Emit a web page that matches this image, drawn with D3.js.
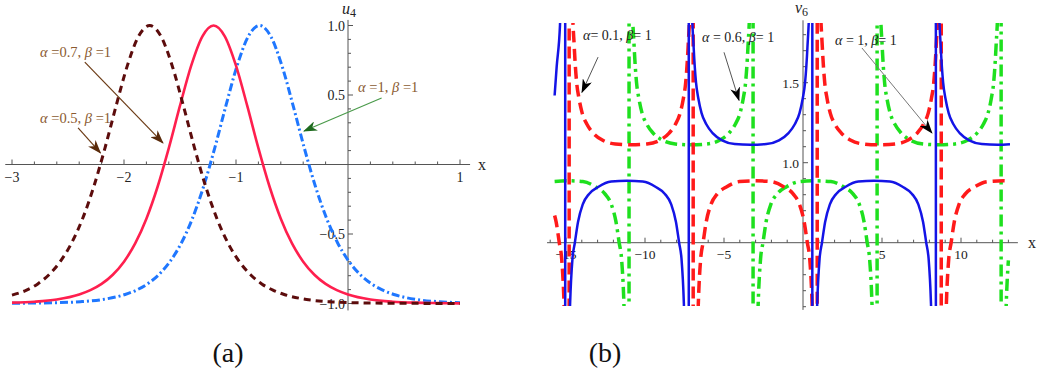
<!DOCTYPE html>
<html>
<head>
<meta charset="utf-8">
<script src="https://cdn.jsdelivr.net/npm/d3@7"></script>
<style>
  body { margin: 0; background: #fff; }
  svg { display: block; }
</style>
</head>
<body>
<div id="chart"></div>
<script>
// ---------- panel (a): u4 against x ----------
var brownX = [-3.0,-2.87,-2.77,-2.67,-2.57,-2.47,-2.37,-2.27,-2.17,-2.07,-1.97,-1.87,-1.77,-1.67,-1.57,-1.47,-1.37,-1.27,-1.17,-1.07,-0.97,-0.87,-0.77,-0.67,-0.57,-0.37,-0.17,0.03,0.23,0.63,1.0];
var brownU = [-0.94,-0.904,-0.859,-0.793,-0.699,-0.568,-0.39,-0.16,0.118,0.423,0.711,0.922,1.0,0.922,0.711,0.423,0.118,-0.16,-0.39,-0.568,-0.699,-0.793,-0.859,-0.904,-0.935,-0.971,-0.987,-0.994,-0.997,-0.999,-1.0];

var redX = [-3.0,-2.8,-2.6,-2.4,-2.3,-2.2,-2.1,-2.0,-1.9,-1.8,-1.7,-1.6,-1.5,-1.4,-1.3,-1.2,-1.1,-1.0,-0.9,-0.8,-0.7,-0.6,-0.5,-0.4,-0.3,-0.2,-0.1,0.0,0.2,0.4,0.6,0.8,1.0];
var redU = [-0.994,-0.987,-0.971,-0.935,-0.904,-0.859,-0.793,-0.699,-0.568,-0.39,-0.16,0.118,0.423,0.711,0.922,1.0,0.922,0.711,0.423,0.118,-0.16,-0.39,-0.568,-0.699,-0.793,-0.859,-0.904,-0.935,-0.971,-0.987,-0.994,-0.997,-0.999];

var blueX = [-3.0,-2.59,-2.39,-2.19,-1.99,-1.89,-1.79,-1.69,-1.59,-1.49,-1.39,-1.29,-1.19,-1.09,-0.99,-0.89,-0.79,-0.69,-0.59,-0.49,-0.39,-0.29,-0.19,-0.09,0.01,0.11,0.21,0.31,0.41,0.61,0.81,1.0];
var blueU = [-0.998,-0.994,-0.987,-0.971,-0.935,-0.904,-0.859,-0.793,-0.699,-0.568,-0.39,-0.16,0.118,0.423,0.711,0.922,1.0,0.922,0.711,0.423,0.118,-0.16,-0.39,-0.568,-0.699,-0.793,-0.859,-0.904,-0.935,-0.971,-0.987,-0.994];

var aTicksX = [-3, -2, -1, 1];
var aTicksY = [-1.0, -0.5, 0.5, 1.0];

// ---------- panel (b): v6 against x, one list per branch ----------
var bBlueX = [
  [-15.72,-15.59,-15.38,-15.21,-15.05],
  [-15.05,-14.89,-14.74,-14.59,-14.44,-14.24,-13.94,-13.54,-12.94,-12.14,-11.14,-10.14,-9.34,-8.74,-8.34,-8.04,-7.84,-7.69,-7.54,-7.39,-7.23],
  [-7.23,-7.17,-7.07,-6.92,-6.77,-6.62,-6.42,-6.12,-5.72,-5.12,-4.32,-3.32,-2.32,-1.52,-0.92,-0.52,-0.22,-0.02,0.13,0.28,0.43,0.53,0.59],
  [0.59,0.75,0.90,1.05,1.20,1.40,1.70,2.10,2.70,3.50,4.50,5.50,6.30,6.90,7.30,7.60,7.80,7.95,8.10,8.25,8.41],
  [8.41,8.47,8.57,8.72,8.87,9.02,9.22,9.52,9.92,10.52,11.32,12.32,13.1]
];
var bBlueV = [
  [1.42,1.60,1.86,2.4,5.0],
  [-3.0,-0.5,0.12,0.40,0.50,0.63,0.74,0.805,0.85,0.882,0.887,0.882,0.85,0.805,0.74,0.63,0.50,0.40,0.12,-0.5,-3.0],
  [5.0,2.8,2.1,1.72,1.50,1.40,1.31,1.24,1.185,1.14,1.117,1.112,1.117,1.14,1.185,1.24,1.31,1.40,1.50,1.72,2.1,2.8,5.0],
  [-3.0,-0.5,0.12,0.40,0.50,0.63,0.74,0.805,0.85,0.882,0.887,0.882,0.85,0.805,0.74,0.63,0.50,0.40,0.12,-0.5,-3.0],
  [5.0,2.8,2.1,1.72,1.50,1.40,1.31,1.24,1.185,1.14,1.117,1.112,1.116]
];

var bRedX = [
  [-15.72,-15.625,-15.425,-15.275,-15.125,-14.975,-14.80],
  [-14.80,-14.725,-14.625,-14.475,-14.325,-14.175,-13.975,-13.675,-13.275,-12.675,-11.875,-10.875,-9.875,-9.075,-8.475,-8.075,-7.775,-7.575,-7.425,-7.275,-7.125,-7.025,-6.95],
  [-6.95,-6.775,-6.625,-6.475,-6.325,-6.125,-5.825,-5.425,-4.825,-4.025,-3.025,-2.025,-1.225,-0.625,-0.225,0.075,0.275,0.425,0.575,0.725,0.90],
  [0.90,0.975,1.075,1.225,1.375,1.525,1.725,2.025,2.425,3.025,3.825,4.825,5.825,6.625,7.225,7.625,7.925,8.125,8.275,8.425,8.575,8.675,8.75],
  [8.75,8.925,9.075,9.225,9.375,9.575,9.875,10.275,10.875,11.675,12.675,12.9]
];
var bRedV = [
  [0.67,0.63,0.50,0.40,0.12,-0.5,-3.0],
  [5.0,2.8,2.1,1.72,1.50,1.40,1.31,1.24,1.185,1.14,1.117,1.112,1.117,1.14,1.185,1.24,1.31,1.40,1.50,1.72,2.1,2.8,5.0],
  [-3.0,-0.5,0.12,0.40,0.50,0.63,0.74,0.805,0.85,0.882,0.887,0.882,0.85,0.805,0.74,0.63,0.50,0.40,0.12,-0.5,-3.0],
  [5.0,2.8,2.1,1.72,1.50,1.40,1.31,1.24,1.185,1.14,1.117,1.112,1.117,1.14,1.185,1.24,1.31,1.40,1.50,1.72,2.1,2.8,5.0],
  [-3.0,-0.5,0.12,0.40,0.50,0.63,0.74,0.805,0.85,0.882,0.887,0.886]
];

var bGreenX = [
  [-15.72,-14.935,-13.935,-13.135,-12.535,-12.135,-11.835,-11.635,-11.485,-11.335,-11.185,-11.01],
  [-11.01,-10.935,-10.835,-10.685,-10.535,-10.385,-10.185,-9.885,-9.485,-8.885,-8.085,-7.085,-6.085,-5.285,-4.685,-4.285,-3.985,-3.785,-3.635,-3.485,-3.335,-3.235,-3.16],
  [-3.16,-2.985,-2.835,-2.685,-2.535,-2.335,-2.035,-1.635,-1.035,-0.235,0.765,1.765,2.565,3.165,3.565,3.865,4.065,4.215,4.365,4.515,4.69],
  [4.69,4.765,4.865,5.015,5.165,5.315,5.515,5.815,6.215,6.815,7.615,8.615,9.615,10.415,11.015,11.415,11.715,11.915,12.065,12.215,12.365,12.465,12.54],
  [12.54,12.715,12.865,13.0]
];
var bGreenV = [
  [0.883,0.887,0.882,0.85,0.805,0.74,0.63,0.50,0.40,0.12,-0.5,-3.0],
  [5.0,2.8,2.1,1.72,1.50,1.40,1.31,1.24,1.185,1.14,1.117,1.112,1.117,1.14,1.185,1.24,1.31,1.40,1.50,1.72,2.1,2.8,5.0],
  [-3.0,-0.5,0.12,0.40,0.50,0.63,0.74,0.805,0.85,0.882,0.887,0.882,0.85,0.805,0.74,0.63,0.50,0.40,0.12,-0.5,-3.0],
  [5.0,2.8,2.1,1.72,1.50,1.40,1.31,1.24,1.185,1.14,1.117,1.112,1.117,1.14,1.185,1.24,1.31,1.40,1.50,1.72,2.1,2.8,5.0],
  [-3.0,-0.5,0.12,0.39]
];

var bTicksX = [-15, -10, -5, 5, 10];
var bTicksY = [1.0, 1.5];

var W = 1038, H = 374;
var axisColor = "#555";

var svg = d3.select("#chart").append("svg")
  .attr("width", W).attr("height", H)
  .attr("font-family", "Liberation Serif");

// arrow heads
var defs = svg.append("defs");
function addMarker(id, color) {
  defs.append("marker")
    .attr("id", id)
    .attr("viewBox", "0 0 14 10")
    .attr("refX", 13).attr("refY", 5)
    .attr("markerWidth", 14).attr("markerHeight", 10)
    .attr("markerUnits", "userSpaceOnUse")
    .attr("orient", "auto")
    .append("path")
    .attr("d", "M0,0 L14,5 L0,10 L4,5 Z")
    .attr("fill", color);
}
addMarker("headBrown", "#5a2a0a");
addMarker("headGreen", "#1f6b1f");
addMarker("headBlack", "#000");

// ================= panel (a) =================
var xA = d3.scaleLinear().domain([-3, 1]).range([12, 460]);
var yA = d3.scaleLinear().domain([-1, 1]).range([303.5, 25.5]);
var gA = svg.append("g");

// axes
gA.append("line").attr("x1", xA(-3.06)).attr("x2", xA(1.09))
  .attr("y1", yA(0)).attr("y2", yA(0)).attr("stroke", axisColor).attr("stroke-width", 1);
gA.append("line").attr("x1", xA(0)).attr("x2", xA(0))
  .attr("y1", yA(1.04)).attr("y2", yA(-1.05)).attr("stroke", axisColor).attr("stroke-width", 1);

d3.range(-15, 6).forEach(function(k) {
  if (k === 0) return;
  var v = k / 5, major = (k % 5 === 0);
  gA.append("line").attr("x1", xA(v)).attr("x2", xA(v))
    .attr("y1", yA(0)).attr("y2", yA(0) - (major ? 5 : 3)).attr("stroke", axisColor);
});
d3.range(-10, 11).forEach(function(k) {
  if (k === 0) return;
  var v = k / 10, major = (k % 5 === 0);
  gA.append("line").attr("x1", xA(0)).attr("x2", xA(0) + (major ? 5 : 3))
    .attr("y1", yA(v)).attr("y2", yA(v)).attr("stroke", axisColor);
});
gA.selectAll(".xtl").data(aTicksX).enter().append("text")
  .attr("x", function(d) { return xA(d); }).attr("y", yA(0) + 17)
  .attr("text-anchor", "middle").attr("font-size", 14).attr("fill", "#222")
  .text(function(d) { return d < 0 ? "\u2212" + Math.abs(d) : d; });
gA.selectAll(".ytl").data(aTicksY).enter().append("text")
  .attr("x", xA(0) - 3).attr("y", function(d) { return yA(d) + 5; })
  .attr("text-anchor", "end").attr("font-size", 14).attr("fill", "#222")
  .text(function(d) { return (d < 0 ? "\u2212" : "") + Math.abs(d).toFixed(1); });

var uLab = gA.append("text").attr("x", xA(0) - 6).attr("y", 14)
  .attr("font-size", 16).attr("font-style", "italic").attr("fill", "#222");
uLab.append("tspan").text("u");
uLab.append("tspan").attr("font-size", 12).attr("dy", 3).attr("font-style", "normal").text("4");
gA.append("text").attr("x", xA(1.09) + 8).attr("y", yA(0) + 5)
  .attr("font-size", 16).attr("fill", "#222").text("x");

// curves
var lineA = d3.line().curve(d3.curveMonotoneX)
  .x(function(d) { return xA(d[0]); }).y(function(d) { return yA(d[1]); });

gA.append("path").datum(d3.zip(blueX, blueU)).attr("d", lineA)
  .attr("fill", "none").attr("stroke", "#1f77ff").attr("stroke-width", 3)
  .attr("stroke-dasharray", "8,3,2,3");
gA.append("path").datum(d3.zip(redX, redU)).attr("d", lineA)
  .attr("fill", "none").attr("stroke", "#ff1f4e").attr("stroke-width", 2.6);
gA.append("path").datum(d3.zip(brownX, brownU)).attr("d", lineA)
  .attr("fill", "none").attr("stroke", "#5c0c0c").attr("stroke-width", 3)
  .attr("stroke-dasharray", "7,5");

// labels and arrows
var labBrown = "#8a5a30";
function greekLabel(g, x, y, a, b, color, size) {
  var t = g.append("text").attr("x", x).attr("y", y).attr("font-size", size).attr("fill", color);
  t.append("tspan").attr("font-style", "italic").text("\u03b1");
  t.append("tspan").text(a);
  t.append("tspan").attr("font-style", "italic").text("\u03b2");
  t.append("tspan").text(b);
}
greekLabel(gA, xA(-2.75), yA(0.77), " =0.7, ", " =1", labBrown, 14.5);
greekLabel(gA, xA(-2.75), yA(0.30), " =0.5, ", " =1", labBrown, 14.5);
greekLabel(gA, xA(0.09), yA(0.52), " =1, ", " =1", labBrown, 14.5);

function arrow(g, x1, y1, x2, y2, color, w, head) {
  g.append("line").attr("x1", x1).attr("y1", y1).attr("x2", x2).attr("y2", y2)
    .attr("stroke", color).attr("stroke-width", w).attr("marker-end", "url(#" + head + ")");
}
arrow(gA, xA(-2.35), yA(0.737), xA(-1.652), yA(0.155), "#6b3a14", 1.2, "headBrown");
arrow(gA, xA(-2.41), yA(0.263), xA(-2.21), yA(0.083), "#6b3a14", 1.2, "headBrown");
arrow(gA, xA(0.30), yA(0.478), xA(-0.393), yA(0.241), "#4a9a4a", 1.2, "headGreen");

// ================= panel (b) =================
var xB = d3.scaleLinear().domain([-15, 10]).range([566, 961]);
var yB = d3.scaleLinear().domain([1, 1.5]).range([162.7, 82.7]);
var gB = svg.append("g");

defs.append("clipPath").attr("id", "clipB").append("rect")
  .attr("x", 540).attr("y", 23).attr("width", 490).attr("height", 283);

gB.append("line").attr("x1", xB(-16.2)).attr("x2", xB(13.6))
  .attr("y1", yB(0.5)).attr("y2", yB(0.5)).attr("stroke", axisColor);
gB.append("line").attr("x1", xB(0)).attr("x2", xB(0))
  .attr("y1", yB(1.89)).attr("y2", yB(0.08)).attr("stroke", axisColor);

d3.range(-16, 14).forEach(function(k) {
  if (k === 0) return;
  var major = (k % 5 === 0);
  gB.append("line").attr("x1", xB(k)).attr("x2", xB(k))
    .attr("y1", yB(0.5)).attr("y2", yB(0.5) - (major ? 5 : 3)).attr("stroke", axisColor);
});
d3.range(1, 19).forEach(function(k) {
  if (k === 5) return;
  var v = k / 10, major = (k % 5 === 0);
  gB.append("line").attr("x1", xB(0)).attr("x2", xB(0) + (major ? 5 : 3))
    .attr("y1", yB(v)).attr("y2", yB(v)).attr("stroke", axisColor);
});
gB.selectAll(".xtl").data(bTicksX).enter().append("text")
  .attr("x", function(d) { return xB(d); }).attr("y", yB(0.5) + 16)
  .attr("text-anchor", "middle").attr("font-size", 13.5).attr("fill", "#222")
  .text(function(d) { return d < 0 ? "\u2212" + Math.abs(d) : d; });
gB.selectAll(".ytl").data(bTicksY).enter().append("text")
  .attr("x", xB(0) - 4).attr("y", function(d) { return yB(d) + 5; })
  .attr("text-anchor", "end").attr("font-size", 13.5).attr("fill", "#222")
  .text(function(d) { return d.toFixed(1); });

var vLab = gB.append("text").attr("x", xB(0) - 8).attr("y", 13)
  .attr("font-size", 16).attr("font-style", "italic").attr("fill", "#222");
vLab.append("tspan").text("v");
vLab.append("tspan").attr("font-size", 12).attr("dy", 3).attr("font-style", "normal").text("6");
gB.append("text").attr("x", xB(13.6) + 10).attr("y", yB(0.5) + 5)
  .attr("font-size", 16).attr("fill", "#222").text("x");

var lineB = d3.line().curve(d3.curveMonotoneX)
  .x(function(d) { return xB(d[0]); }).y(function(d) { return yB(d[1]); });

// join branches into one path so the dashes run on across the jumps
function branchPath(xs, vs) {
  return xs.map(function(bx, i) {
    var s = lineB(d3.zip(bx, vs[i]));
    return i ? s.replace(/^M/, "L") : s;
  }).join("");
}
var curvesB = gB.append("g").attr("clip-path", "url(#clipB)");
curvesB.append("path").attr("d", branchPath(bGreenX, bGreenV))
  .attr("fill", "none").attr("stroke", "#1ee01e").attr("stroke-width", 3.5)
  .attr("stroke-dasharray", "12,5,3,5");
curvesB.append("path").attr("d", branchPath(bRedX, bRedV))
  .attr("fill", "none").attr("stroke", "#ff1a1a").attr("stroke-width", 3.5)
  .attr("stroke-dasharray", "12,6");
curvesB.append("path").attr("d", branchPath(bBlueX, bBlueV))
  .attr("fill", "none").attr("stroke", "#1414e6").attr("stroke-width", 2.5);

greekLabel(gB, xB(-13.92), yB(1.767), "= 0.1, ", "= 1", "#222", 14);
greekLabel(gB, xB(-6.39), yB(1.754), " = 0.6, ", "= 1", "#222", 14);
greekLabel(gB, xB(2.03), yB(1.736), " = 1, ", "= 1", "#222", 14);
arrow(gB, xB(-12.97), yB(1.66), xB(-13.99), yB(1.44), "#555", 1, "headBlack");
arrow(gB, xB(-5.0), yB(1.69), xB(-4.05), yB(1.39), "#555", 1, "headBlack");
arrow(gB, xB(3.73), yB(1.717), xB(8.16), yB(1.186), "#777", 1, "headBlack");

// captions
svg.append("text").attr("x", 228).attr("y", 362).attr("text-anchor", "middle")
  .attr("font-size", 28).attr("fill", "#111").text("(a)");
svg.append("text").attr("x", 605).attr("y", 362).attr("text-anchor", "middle")
  .attr("font-size", 28).attr("fill", "#111").text("(b)");
</script>
</body>
</html>
